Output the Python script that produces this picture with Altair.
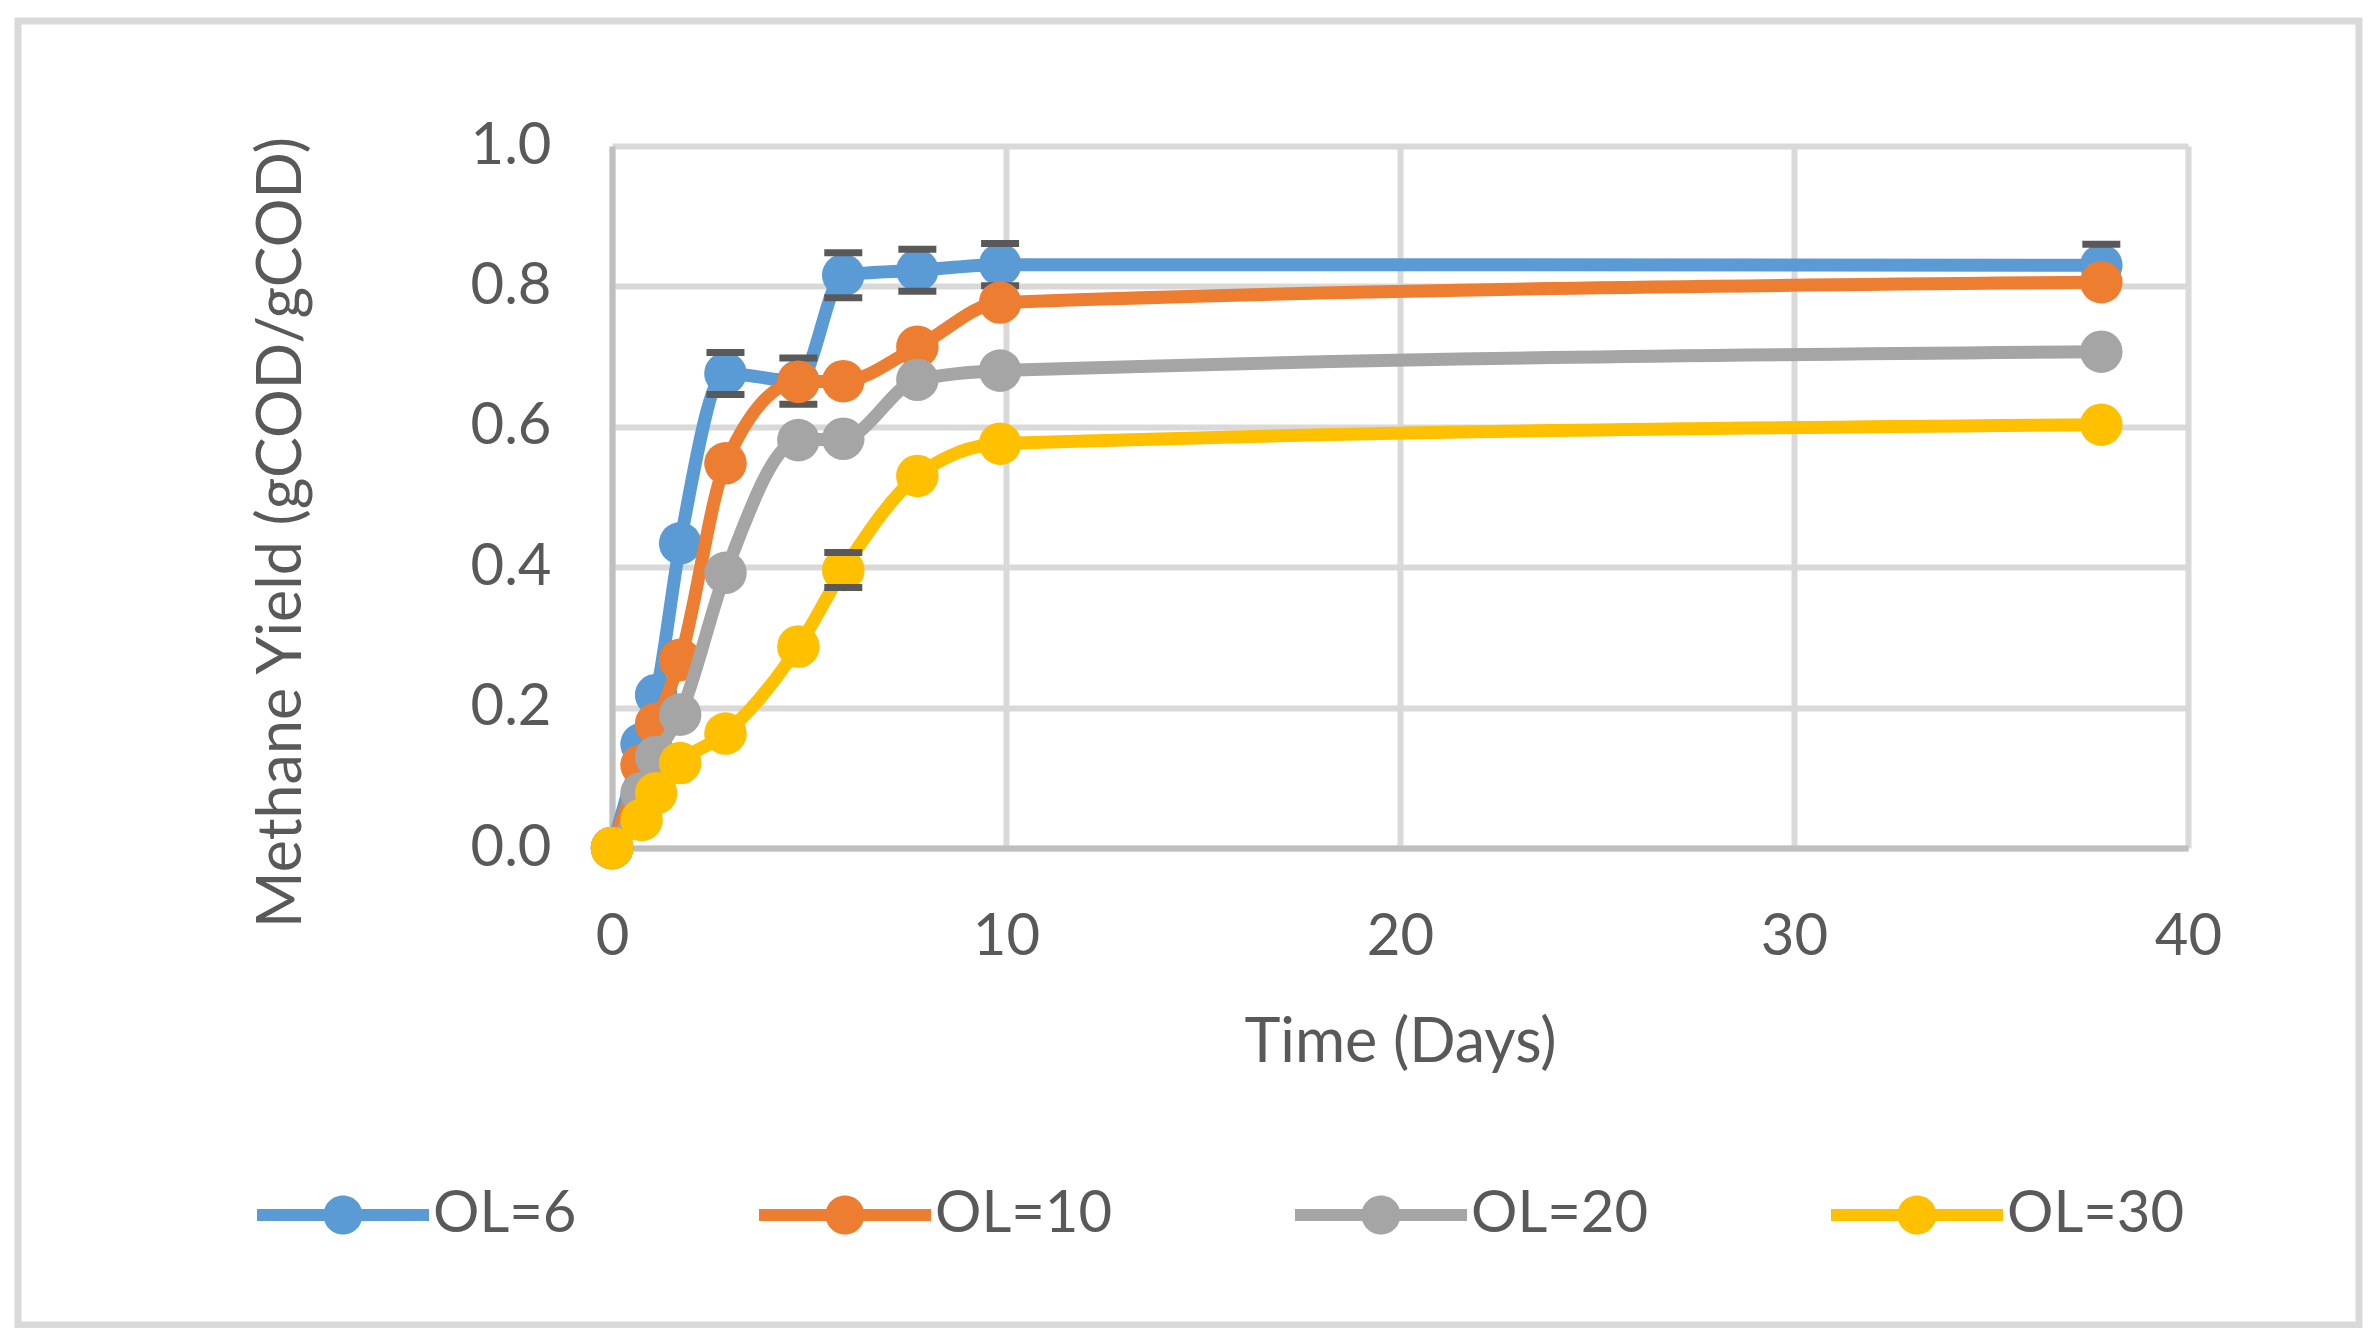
import altair as alt
import pandas as pd

# ---- data ----
time_days = [0, 0.75, 1.12, 1.73, 2.88, 4.73, 5.87, 7.75, 9.85, 37.8]
ol6 = [0, 0.148, 0.218, 0.434, 0.676, 0.665, 0.816, 0.823, 0.831, 0.830]
ol10 = [0, 0.118, 0.177, 0.268, 0.548, 0.664, 0.665, 0.714, 0.777, 0.806]
ol20 = [0, 0.078, 0.130, 0.190, 0.392, 0.581, 0.583, 0.667, 0.680, 0.707]
ol30 = [0, 0.040, 0.078, 0.121, 0.163, 0.287, 0.396, 0.530, 0.576, 0.603]
err_ol6 = [0, 0, 0, 0, 0.03, 0.033, 0.032, 0.03, 0.03, 0.03]
err_ol10 = [0, 0, 0, 0, 0, 0, 0, 0, 0, 0]
err_ol20 = [0, 0, 0, 0, 0, 0, 0, 0, 0, 0]
err_ol30 = [0, 0, 0, 0, 0, 0, 0.025, 0, 0, 0]
series_names = ["OL=6", "OL=10", "OL=20", "OL=30"]
series_colors = ["#5B9BD5", "#ED7D31", "#A5A5A5", "#FFC000"]
x_ticks = [0, 10, 20, 30, 40]
y_ticks = [0.0, 0.2, 0.4, 0.6, 0.8, 1.0]

values = [ol6, ol10, ol20, ol30]
errors = [err_ol6, err_ol10, err_ol20, err_ol30]

FONT = "Lato"
TXT = "#595959"
FS = 58
TFS = 61

color_scale = alt.Scale(domain=series_names, range=series_colors)

LEGEND_PATH = ("M-1,-0.07H1V0.07H-1Z "
               "M0.227,0A0.227,0.227 0 1,1 -0.227,0A0.227,0.227 0 1,1 0.227,0Z")

legend = alt.Legend(
    title=None, orient="none", legendX=-355, legendY=983,
    direction="horizontal", symbolType=LEGEND_PATH, symbolSize=29584,
    symbolStrokeWidth=0, symbolOpacity=1, labelFont=FONT, labelFontSize=FS,
    labelColor=TXT, labelOffset=4, columnPadding=182, padding=0,
    labelLimit=500,
)

x_enc = alt.X(
    "t:Q",
    scale=alt.Scale(domain=[0, 40], nice=False),
    axis=alt.Axis(
        values=x_ticks, title="Time (Days)", grid=True, ticks=False, tickSize=0,
        labelPadding=60, labelFlush=False, titleY=213, titleBaseline="alphabetic",
    ),
)
y_scale = alt.Scale(domain=[0, 1], nice=False)
y_enc = alt.Y(
    "v:Q",
    scale=y_scale,
    axis=alt.Axis(
        values=y_ticks, format=".1f", title="Methane Yield (gCOD/gCOD)",
        grid=True, ticks=False, tickSize=0, labelPadding=61, labelFlush=False,
        titleX=-312, titleY=386, titleBaseline="alphabetic", titleAngle=270,
    ),
)

frame = alt.Chart(pd.DataFrame({"k": [0]})).mark_rect(
    fillOpacity=0, stroke="#D9D9D9", strokeWidth=7
).encode(
    x=alt.value(-594), x2=alt.value(1747), y=alt.value(-125), y2=alt.value(1179)
)

layers = [frame]
for name, col, vals, errs in zip(series_names, series_colors, values, errors):
    df = pd.DataFrame({"t": time_days, "v": vals, "err": errs, "series": name})
    base = alt.Chart(df)
    line = base.mark_line(
        color=col, strokeWidth=13, interpolate="monotone", strokeCap="round"
    ).encode(x=x_enc, y=y_enc)
    pts = base.mark_point(filled=True, size=1810, opacity=1).encode(
        x=x_enc, y=y_enc,
        color=alt.Color("series:N", scale=color_scale, legend=legend),
    )
    layers += [line, pts]
    if any(e > 0 for e in errs):
        eb = base.transform_filter("datum.err > 0").transform_calculate(
            hi="datum.v + datum.err", lo="datum.v - datum.err"
        )
        cap_hi = eb.mark_tick(orient="horizontal", size=38, thickness=7,
                              color="#595959", opacity=1).encode(
            x="t:Q", y=alt.Y("hi:Q", scale=y_scale))
        cap_lo = eb.mark_tick(orient="horizontal", size=38, thickness=7,
                              color="#595959", opacity=1).encode(
            x="t:Q", y=alt.Y("lo:Q", scale=y_scale))
        layers += [cap_hi, cap_lo]

chart = alt.layer(*layers).properties(
    width=1576, height=702,
    padding={"left": 604, "top": 138, "right": 183, "bottom": 480},
    autosize=alt.AutoSizeParams(type="none"),
    background="white",
).configure_axis(
    labelFont=FONT, labelFontSize=FS, labelColor=TXT,
    titleFont=FONT, titleFontSize=TFS, titleColor=TXT, titleFontWeight="normal",
    gridColor="#D9D9D9", gridWidth=6, domainColor="#BFBFBF", domainWidth=6,
).configure_view(strokeWidth=0)

chart.save("out.html", embed_options={"renderer": "svg", "actions": False})
